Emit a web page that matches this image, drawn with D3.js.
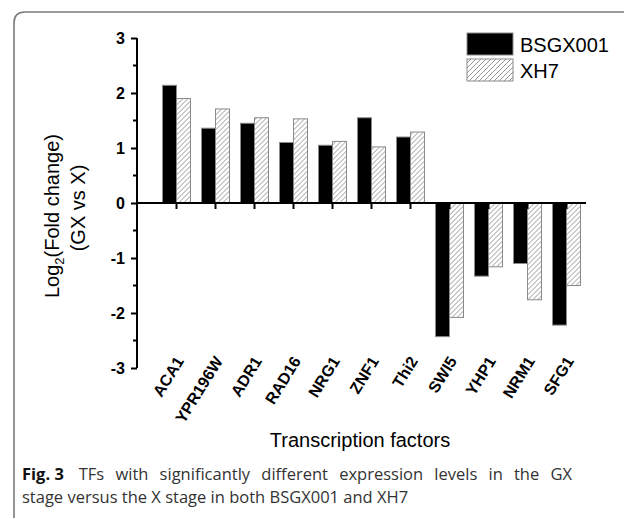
<!DOCTYPE html>
<html>
<head>
<meta charset="utf-8">
<script src="https://cdn.jsdelivr.net/npm/d3@7"></script>
<style>
  body { margin: 0; background: #fff; }
  svg { display: block; }
</style>
</head>
<body>
<div id="chart"></div>
<script>
// values
var factors = ["ACA1", "YPR196W", "ADR1", "RAD16", "NRG1", "ZNF1", "Thi2", "SWI5", "YHP1", "NRM1", "SFG1"];
var strains = ["BSGX001", "XH7"];
var bsgx001 = [2.14, 1.36, 1.45, 1.10, 1.05, 1.55, 1.20, -2.43, -1.33, -1.10, -2.22];
var xh7 = [1.90, 1.71, 1.55, 1.53, 1.12, 1.02, 1.29, -2.08, -1.16, -1.76, -1.50];
var yTicks = [-3, -2, -1, 0, 1, 2, 3];
var yMinor = [-2.5, -1.5, -0.5, 0.5, 1.5, 2.5];

var W = 624, H = 519;
var svg = d3.select("#chart").append("svg")
    .attr("width", W).attr("height", H);

// hatch for XH7
var defs = svg.append("defs");
defs.append("pattern")
    .attr("id", "hatch")
    .attr("patternUnits", "userSpaceOnUse")
    .attr("width", 5).attr("height", 5)
    .call(p => {
        p.append("rect").attr("width", 5).attr("height", 5).attr("fill", "#fff");
        p.append("path").attr("d", "M-1,1 l2,-2 M0,5 l5,-5 M4,6 l2,-2")
            .attr("stroke", "#8a8a8a").attr("stroke-width", 0.9);
    });

// frame around figure
svg.append("path")
    .attr("d", "M14,518 L14,23 Q14,12 25,12 L624,12")
    .attr("fill", "none").attr("stroke", "#7a7a7a").attr("stroke-width", 1.6);

var y = d3.scaleLinear().domain([-3, 3]).range([368, 38]);
var x = d3.scaleBand().domain(factors).range([157, 586]).padding(0);
var x1 = d3.scaleBand().domain(strains).range([-14, 14]);
var axisX = 137;
var arial = "Arial, 'Liberation Sans', sans-serif";

var rows = factors.map((f, i) => ({ f: f, v: [bsgx001[i], xh7[i]] }));

var g = svg.append("g");
g.selectAll(".grp")
    .data(rows).enter()
    .append("g")
    .attr("transform", d => "translate(" + (x(d.f) + x.bandwidth() / 2) + ",0)")
    .selectAll("rect")
    .data(d => d.v.map((v, j) => ({ s: strains[j], v: v })))
    .enter().append("rect")
    .attr("x", d => x1(d.s))
    .attr("width", x1.bandwidth())
    .attr("y", d => y(Math.max(0, d.v)))
    .attr("height", d => Math.abs(y(d.v) - y(0)))
    .attr("fill", d => d.s === "BSGX001" ? "#000" : "url(#hatch)")
    .attr("stroke", "#8a8a8a").attr("stroke-width", 1);

// y axis
var yAxis = d3.axisLeft(y).tickValues(yTicks).tickSize(6).tickPadding(6)
    .tickFormat(d => String(d));
var ya = svg.append("g").attr("transform", "translate(" + axisX + ",0)").call(yAxis);
ya.select(".domain").attr("stroke-width", 2).attr("d", "M0,38V368");
ya.selectAll(".tick line").attr("stroke-width", 2);
ya.selectAll(".tick text").attr("font-family", arial)
    .attr("font-weight", "bold").attr("font-size", 16).attr("fill", "#000");
ya.selectAll(".minor").data(yMinor).enter().append("line")
    .attr("x1", -4).attr("x2", 0)
    .attr("y1", d => y(d)).attr("y2", d => y(d))
    .attr("stroke", "#000").attr("stroke-width", 2);

// x axis through zero
var xAxis = d3.axisBottom(x).tickSize(6).tickFormat("");
var xa = svg.append("g").attr("transform", "translate(0," + y(0) + ")").call(xAxis);
xa.select(".domain").attr("stroke-width", 2).attr("d", "M" + axisX + ",0H586");
xa.selectAll(".tick line").attr("stroke-width", 2);

// category labels below the plot
svg.append("g").selectAll("text")
    .data(factors).enter().append("text")
    .attr("transform", d => "translate(" + (x(d) + x.bandwidth() / 2 + 8) + ",361) rotate(-58)")
    .attr("text-anchor", "end")
    .attr("font-family", arial)
    .attr("font-weight", "bold").attr("font-size", 16)
    .text(d => d);

// axis titles
svg.append("text")
    .attr("x", 360).attr("y", 447)
    .attr("text-anchor", "middle")
    .attr("font-family", arial)
    .attr("font-size", 20)
    .text("Transcription factors");

var yt = svg.append("text")
    .attr("transform", "translate(59,216) rotate(-90)")
    .attr("text-anchor", "middle")
    .attr("font-family", arial)
    .attr("font-size", 20);
yt.append("tspan").text("Log");
yt.append("tspan").attr("font-size", 13).attr("dy", 5).text("2");
yt.append("tspan").attr("dy", -5).text("(Fold change)");
svg.append("text")
    .attr("transform", "translate(85,208) rotate(-90)")
    .attr("text-anchor", "middle")
    .attr("font-family", arial)
    .attr("font-size", 20)
    .text("(GX vs X)");

// legend
var lg = svg.append("g").attr("transform", "translate(467,33)");
lg.selectAll("rect").data(strains).enter().append("rect")
    .attr("x", 0).attr("y", (d, i) => i * 26)
    .attr("width", 46).attr("height", 22)
    .attr("fill", d => d === "BSGX001" ? "#000" : "url(#hatch)")
    .attr("stroke", "#8a8a8a").attr("stroke-width", 1);
lg.selectAll("text").data(strains).enter().append("text")
    .attr("x", 53).attr("y", (d, i) => 19 + i * 26)
    .attr("font-family", arial)
    .attr("font-size", 20)
    .text(d => d);

// caption (first line justified to the box width)
var cap = svg.append("g").attr("font-family", "'Open Sans', Lato, sans-serif").attr("font-size", 16.5);
var c1 = cap.append("text").attr("x", 22).attr("y", 480).attr("fill", "#333");
var figLabel = c1.append("tspan").attr("font-weight", "bold").attr("fill", "#111")
    .attr("word-spacing", 0).text("Fig. 3");
var rest = c1.append("tspan").attr("dx", 8).text("TFs with significantly different expression levels in the GX");
cap.append("text").attr("x", 22).attr("y", 503).attr("fill", "#333")
    .text("stage versus the X stage in both BSGX001 and XH7");

var len = c1.node().getComputedTextLength() + 8;
var extra = Math.max(0, 572 - 22 - len);
rest.attr("dx", 8 + extra / 9).attr("word-spacing", extra / 9);
</script>
</body>
</html>
